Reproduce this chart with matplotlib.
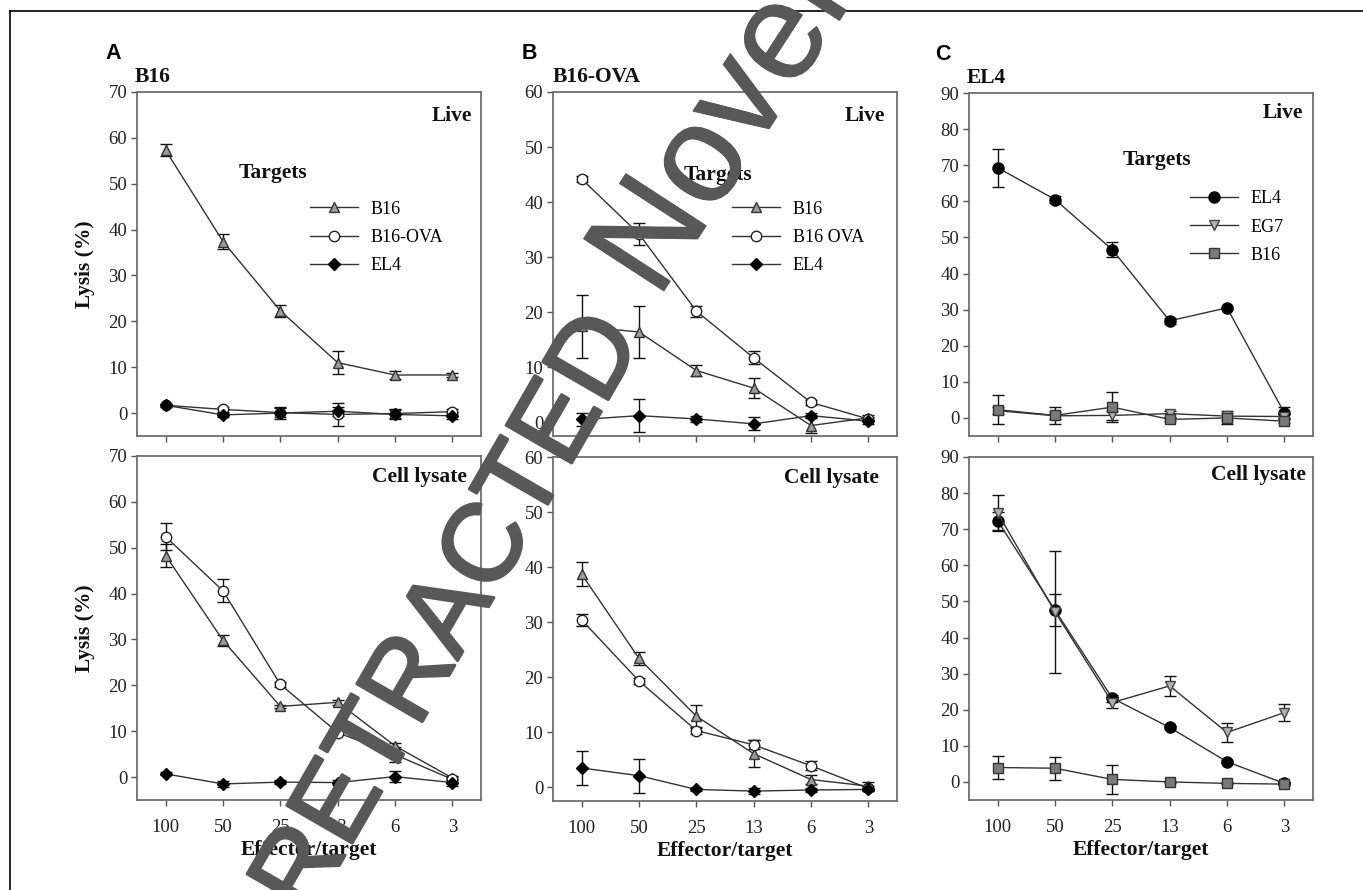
import matplotlib
matplotlib.use("Agg")
import matplotlib.pyplot as plt
from matplotlib.lines import Line2D
import matplotlib.patheffects as pe

W, H = 1363, 890
SERIF = "Liberation Serif"
SANS = "Liberation Sans"

ratios = ["100", "50", "25", "13", "6", "3"]
xpos = list(range(len(ratios)))

# ---------- Panel A : B16 effectors ----------
A_live_B16 = [57.3, 37.4, 22.3, 11.0, 8.3, 8.3]
A_live_B16_err = [1.3, 1.7, 1.3, 2.5, 0.8, 0.5]
A_live_OVA = [1.7, 0.8, 0.1, -0.3, -0.1, 0.3]
A_live_OVA_err = [0.3, 0.5, 1.0, 2.5, 1.0, 0.6]
A_live_EL4 = [1.7, -0.4, 0.0, 0.4, -0.3, -0.6]
A_live_EL4_err = [0.3, 0.5, 1.4, 1.0, 1.0, 0.8]

A_lys_B16 = [48.3, 29.8, 15.4, 16.3, 6.8, -0.2]
A_lys_B16_err = [2.6, 1.2, 0.4, 0.5, 0.6, 0.5]
A_lys_OVA = [52.4, 40.6, 20.2, 9.7, 4.9, -0.5]
A_lys_OVA_err = [3.0, 2.5, 0.5, 0.5, 1.6, 0.5]
A_lys_EL4 = [0.7, -1.5, -1.1, -1.2, 0.1, -1.2]
A_lys_EL4_err = [0.3, 0.7, 0.4, 0.6, 1.2, 0.8]

# ---------- Panel B : B16-OVA effectors ----------
B_live_B16 = [17.4, 16.4, 9.4, 6.2, -0.6, 0.8]
B_live_B16_err = [5.7, 4.7, 1.0, 1.8, 1.3, 0.5]
B_live_OVA = [44.2, 34.2, 20.2, 11.7, 3.6, 0.6]
B_live_OVA_err = [0.5, 2.0, 1.0, 1.2, 0.4, 0.4]
B_live_EL4 = [0.5, 1.2, 0.6, -0.3, 1.2, 0.2]
B_live_EL4_err = [1.2, 3.0, 0.5, 1.2, 0.5, 0.5]

B_lys_B16 = [38.7, 23.4, 12.9, 6.1, 1.4, 0.2]
B_lys_B16_err = [2.2, 1.2, 2.1, 2.4, 0.8, 0.7]
B_lys_OVA = [30.4, 19.3, 10.3, 7.7, 3.9, -0.2]
B_lys_OVA_err = [1.1, 0.5, 0.7, 0.8, 0.8, 0.5]
B_lys_EL4 = [3.5, 2.1, -0.4, -0.7, -0.5, -0.4]
B_lys_EL4_err = [3.1, 3.1, 0.3, 0.6, 0.3, 0.3]

# ---------- Panel C : EL4 effectors ----------
C_live_EL4 = [69.3, 60.5, 46.6, 26.9, 30.5, 1.4]
C_live_EL4_err = [5.2, 1.0, 2.0, 0.8, 0.3, 1.5]
C_live_EG7 = [2.0, 0.6, 0.7, 1.2, 0.5, 0.4]
C_live_EG7_err = [1.0, 1.0, 1.3, 0.8, 1.0, 0.8]
C_live_B16 = [2.3, 0.7, 3.0, -0.4, 0.0, -0.9]
C_live_B16_err = [4.0, 2.4, 4.2, 0.5, 1.8, 0.5]

C_lys_EL4 = [72.3, 47.6, 23.2, 15.1, 5.6, -0.4]
C_lys_EL4_err = [2.5, 4.5, 1.0, 0.4, 0.4, 0.4]
C_lys_EG7 = [74.5, 47.1, 22.0, 26.6, 13.7, 19.2]
C_lys_EG7_err = [5.0, 17.0, 1.5, 2.8, 2.5, 2.4]
C_lys_B16 = [4.0, 3.8, 0.7, 0.0, -0.4, -0.6]
C_lys_B16_err = [3.1, 3.2, 4.0, 0.3, 0.3, 0.3]

# marker styles
ST = {
    "tri_up": dict(marker="^", ms=7, mfc="#9a9a9a", mec="#333333"),
    "circ_open": dict(marker="o", ms=7.5, mfc="white", mec="#222222"),
    "diam": dict(marker="D", ms=6.5, mfc="black", mec="black"),
    "circ_fill": dict(marker="o", ms=8, mfc="black", mec="black"),
    "tri_down": dict(marker="v", ms=7.5, mfc="#b0b0b0", mec="#444444"),
    "square": dict(marker="s", ms=7, mfc="#7a7a7a", mec="#333333"),
}

fig = plt.figure(figsize=(W / 100, H / 100), dpi=100)


def px_axes(l, t, r, b):
    return fig.add_axes([l / W, 1 - b / H, (r - l) / W, (b - t) / H])


def style_axes(ax, ylim, yticks, bottom_labels):
    ax.set_xlim(-0.5, 5.5)
    ax.set_ylim(*ylim)
    ax.set_yticks(yticks)
    ax.set_xticks(xpos)
    for s in ax.spines.values():
        s.set_color("#6e6e6e")
        s.set_linewidth(1.3)
    ax.tick_params(axis="both", direction="out", length=4.5, width=1,
                   color="#555555", labelsize=13.5, labelcolor="#222222")
    ax.tick_params(axis="y", pad=2.5)
    ax.tick_params(axis="x", pad=9)
    for lab in ax.get_yticklabels() + ax.get_xticklabels():
        lab.set_family(SERIF)
    if bottom_labels:
        ax.set_xticklabels(ratios)
        ax.set_xlabel("Effector/target", family=SERIF, fontweight="bold",
                      fontsize=15.5, labelpad=3, color="#111111")
    else:
        ax.set_xticklabels([])


def draw_series(ax, series):
    for vals, errs, key, lab in series:
        ax.errorbar(xpos, vals, yerr=errs, fmt="none", ecolor="#111111",
                    elinewidth=1, capsize=4, capthick=1, zorder=2)
    handles = []
    for vals, errs, key, lab in series:
        h, = ax.plot(xpos, vals, color="#333333", lw=1.0, zorder=3,
                     label=lab, **ST[key])
        handles.append(h)
    return handles


def corner_text(ax, txt, x, y):
    ax.text(x, y, txt, transform=ax.transAxes, ha="right", va="center",
            family=SERIF, fontweight="bold", fontsize=15.5, color="#111111")


def legend(ax, handles, x, y, tx, ty):
    ax.text(tx, ty, "Targets", transform=ax.transAxes, ha="center", va="center",
            family=SERIF, fontweight="bold", fontsize=15.5, color="#111111")
    ax.legend(handles=handles, loc="upper left", bbox_to_anchor=(x, y),
              frameon=False, borderpad=0, borderaxespad=0, handlelength=2.66,
              handletextpad=0.7, labelspacing=0.62,
              prop={"family": SERIF, "size": 13})


yt70 = list(range(0, 71, 10))
yt60 = list(range(0, 61, 10))
yt90 = list(range(0, 91, 10))

# ---- A ----
axA1 = px_axes(137, 92, 481, 436)
hA = draw_series(axA1, [
    (A_live_B16, A_live_B16_err, "tri_up", "B16"),
    (A_live_OVA, A_live_OVA_err, "circ_open", "B16-OVA"),
    (A_live_EL4, A_live_EL4_err, "diam", "EL4"),
])
style_axes(axA1, (-5, 70), yt70, False)
corner_text(axA1, "Live", 0.974, 0.93)
legend(axA1, hA, 0.503, 0.684, 0.395, 0.765)
axA1.set_ylabel("Lysis (%)", family=SERIF, fontweight="bold", fontsize=15.5,
                labelpad=10, color="#111111")
axA1.text(-0.093, 1.113, "A", transform=axA1.transAxes, ha="left", va="center",
          family=SANS, fontweight="bold", fontsize=15.5)
axA1.text(-0.006, 1.029, "B16", transform=axA1.transAxes, ha="left", va="baseline",
          family=SERIF, fontweight="bold", fontsize=15.5, color="#111111")

axA2 = px_axes(137, 456, 481, 800)
draw_series(axA2, [
    (A_lys_B16, A_lys_B16_err, "tri_up", "B16"),
    (A_lys_OVA, A_lys_OVA_err, "circ_open", "B16-OVA"),
    (A_lys_EL4, A_lys_EL4_err, "diam", "EL4"),
])
style_axes(axA2, (-5, 70), yt70, True)
corner_text(axA2, "Cell lysate", 0.96, 0.939)
axA2.set_ylabel("Lysis (%)", family=SERIF, fontweight="bold", fontsize=15.5,
                labelpad=10, color="#111111")

# ---- B ----
axB1 = px_axes(553, 92, 897, 436)
hB = draw_series(axB1, [
    (B_live_B16, B_live_B16_err, "tri_up", "B16"),
    (B_live_OVA, B_live_OVA_err, "circ_open", "B16 OVA"),
    (B_live_EL4, B_live_EL4_err, "diam", "EL4"),
])
style_axes(axB1, (-2.5, 60), yt60, False)
corner_text(axB1, "Live", 0.965, 0.93)
legend(axB1, hB, 0.52, 0.684, 0.48, 0.759)
axB1.text(-0.09, 1.113, "B", transform=axB1.transAxes, ha="left", va="center",
          family=SANS, fontweight="bold", fontsize=15.5)
axB1.text(0.0, 1.029, "B16-OVA", transform=axB1.transAxes, ha="left", va="baseline",
          family=SERIF, fontweight="bold", fontsize=15.5, color="#111111")

axB2 = px_axes(553, 457, 897, 801)
draw_series(axB2, [
    (B_lys_B16, B_lys_B16_err, "tri_up", "B16"),
    (B_lys_OVA, B_lys_OVA_err, "circ_open", "B16 OVA"),
    (B_lys_EL4, B_lys_EL4_err, "diam", "EL4"),
])
style_axes(axB2, (-2.5, 60), yt60, True)
corner_text(axB2, "Cell lysate", 0.948, 0.939)

# ---- C ----
axC1 = px_axes(969, 93, 1313, 436)
hC = draw_series(axC1, [
    (C_live_EL4, C_live_EL4_err, "circ_fill", "EL4"),
    (C_live_EG7, C_live_EG7_err, "tri_down", "EG7"),
    (C_live_B16, C_live_B16_err, "square", "B16"),
])
style_axes(axC1, (-5, 90), yt90, False)
corner_text(axC1, "Live", 0.971, 0.942)
legend(axC1, hC, 0.642, 0.716, 0.547, 0.805)
axC1.text(-0.099, 1.113, "C", transform=axC1.transAxes, ha="left", va="center",
          family=SANS, fontweight="bold", fontsize=15.5)
axC1.text(-0.006, 1.029, "EL4", transform=axC1.transAxes, ha="left", va="baseline",
          family=SERIF, fontweight="bold", fontsize=15.5, color="#111111")

axC2 = px_axes(969, 457, 1313, 800)
draw_series(axC2, [
    (C_lys_EL4, C_lys_EL4_err, "circ_fill", "EL4"),
    (C_lys_EG7, C_lys_EG7_err, "tri_down", "EG7"),
    (C_lys_B16, C_lys_B16_err, "square", "B16"),
])
style_axes(axC2, (-5, 90), yt90, True)
corner_text(axC2, "Cell lysate", 0.98, 0.948)

# figure frame (top and left edges visible)
fig.add_artist(Line2D([9.5 / W, 9.5 / W], [0, 1 - 10.5 / H], transform=fig.transFigure,
                      color="black", lw=1.2))
fig.add_artist(Line2D([9.5 / W, 1], [1 - 10.5 / H, 1 - 10.5 / H], transform=fig.transFigure,
                      color="black", lw=1.2))

# retraction watermark
WM = "#585858"
fig.text(0.226, -0.0331, "RETRACTED", rotation=60, rotation_mode="anchor",
         ha="left", va="baseline", fontsize=79, family=SANS, color=WM,
         zorder=100, path_effects=[pe.withStroke(linewidth=2.2, foreground=WM)])
fig.text(0.4825, 0.6625, "November", rotation=57, rotation_mode="anchor",
         ha="left", va="baseline", fontsize=100, family=SANS, color=WM,
         zorder=100, path_effects=[pe.withStroke(linewidth=0.8, foreground=WM)])

fig.savefig("out.png", dpi=100)
